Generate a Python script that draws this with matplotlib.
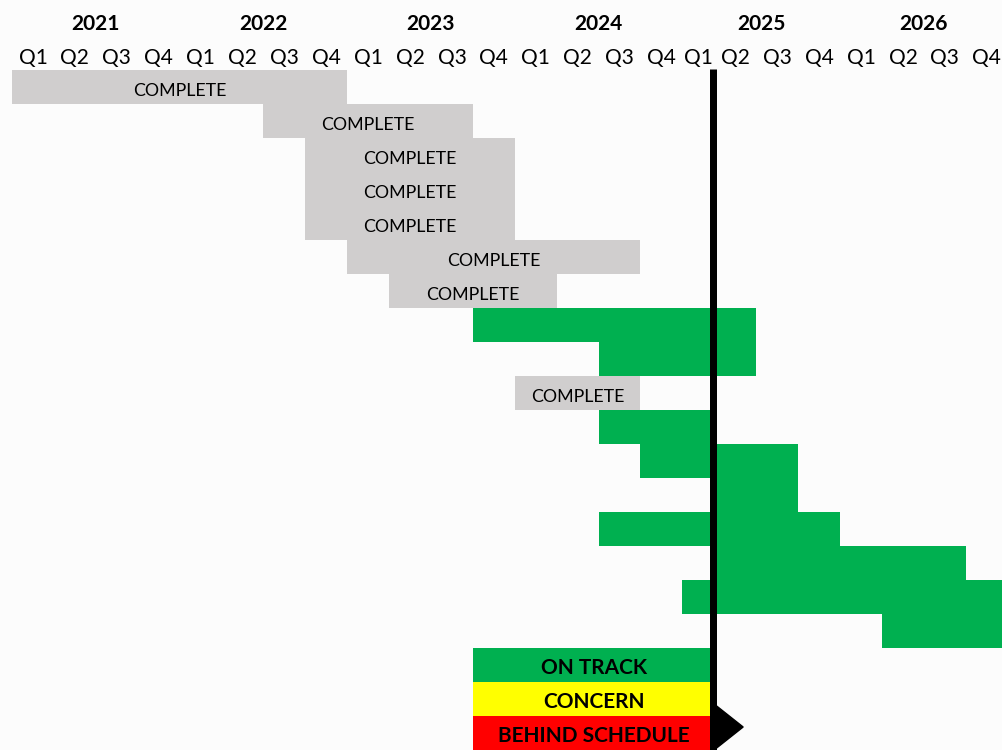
import matplotlib
matplotlib.use('Agg')
import matplotlib.pyplot as plt
from matplotlib.patches import Polygon
import numpy as np

plt.rcParams['font.family'] = ['Lato', 'DejaVu Sans']

# ---------------- data ----------------
years = ['2021', '2022', '2023', '2024', '2025', '2026']
quarters = ['Q1', 'Q2', 'Q3', 'Q4']

task_start = ['2021 Q1', '2022 Q3', '2022 Q4', '2022 Q4', '2022 Q4', '2023 Q1', '2023 Q2',
              '2023 Q4', '2024 Q3', '2024 Q1', '2024 Q3', '2024 Q4', '2025 Q2', '2024 Q3',
              '2025 Q2', '2025 Q1', '2026 Q2']
task_end = ['2022 Q4', '2023 Q3', '2023 Q4', '2023 Q4', '2023 Q4', '2024 Q3', '2024 Q1',
            '2025 Q2', '2025 Q2', '2024 Q3', '2025 Q1', '2025 Q3', '2025 Q3', '2025 Q4',
            '2026 Q3', '2026 Q4', '2026 Q4']
task_status = ['COMPLETE'] * 7 + ['ON TRACK', 'ON TRACK', 'COMPLETE'] + ['ON TRACK'] * 7

legend_labels = ['ON TRACK', 'CONCERN', 'BEHIND SCHEDULE']
legend_span = ('2023 Q4', '2025 Q1')
status_date = '2025 Q1'   # status line drawn at the end of this quarter

status_colors = {'COMPLETE': '#D0CECE', 'ON TRACK': '#00B050',
                 'CONCERN': '#FFFF00', 'BEHIND SCHEDULE': '#FF0000'}

# ---------------- layout ----------------
qlabels = [f'{y} {q}' for y in years for q in quarters]
col_w = np.ones(len(qlabels))
col_w[qlabels.index('2025 Q1')] = 0.764      # narrower column in the source sheet
edges = np.concatenate([[0], np.cumsum(col_w)])
centers = (edges[:-1] + edges[1:]) / 2

def qidx(s):
    return qlabels.index(s)

fig = plt.figure(figsize=(10.02, 7.5), dpi=100)
fig.patch.set_facecolor('#FCFCFC')
ax = fig.add_axes([0, 0, 1, 1])
ax.set_facecolor('#FCFCFC')
ax.set_xlim(-12 / 41.9, 990 / 41.9)
ax.set_ylim(20, -70 / 34)
ax.axis('off')

# header
for i, y in enumerate(years):
    c = (edges[4 * i] + edges[4 * i + 4]) / 2
    ax.text(c, -1.35, y, ha='center', va='center', fontsize=15, fontweight='bold', color='black')
for i, q in enumerate(qlabels):
    ax.text(centers[i], -0.35, q.split()[1], ha='center', va='center', fontsize=15, color='black')

# tasks
for row, (s, e, st) in enumerate(zip(task_start, task_end, task_status)):
    left = edges[qidx(s)]
    right = edges[qidx(e) + 1]
    ax.barh(row + 0.5, right - left, left=left, height=1.0, color=status_colors[st],
            linewidth=0)
    if st == 'COMPLETE':
        ax.text((left + right) / 2, row + 0.62, 'COMPLETE', ha='center', va='center',
                fontsize=12.8, color='black')

# legend blocks
lrow0 = len(task_start)
l_left = edges[qidx(legend_span[0])]
l_right = edges[qidx(legend_span[1]) + 1]
for k, lab in enumerate(legend_labels):
    ax.barh(lrow0 + k + 0.5, l_right - l_left, left=l_left, height=1.0,
            color=status_colors[lab], linewidth=0)
    ax.text((l_left + l_right) / 2, lrow0 + k + 0.6, lab, ha='center', va='center',
            fontsize=15, fontweight='bold', color='black')

# status line
tx = edges[qidx(status_date) + 1] - 0.03
ax.plot([tx, tx], [-1 / 34, 20], color='black', lw=5.04, solid_capstyle='butt', zorder=5)
base = tx + 3.5 / 41.9
tri = Polygon([[base, (706 - 70) / 34], [tx + 30 / 41.9, (727 - 70) / 34],
               [base, (748 - 70) / 34]], closed=True, color='black', zorder=5)
ax.add_patch(tri)

fig.savefig('out.png', dpi=100, facecolor=fig.get_facecolor())
